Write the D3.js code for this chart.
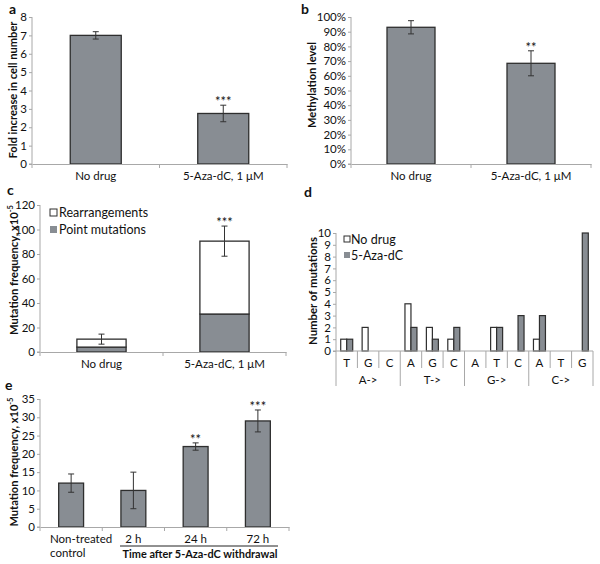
<!DOCTYPE html>
<html><head><meta charset="utf-8">
<script src="https://cdn.jsdelivr.net/npm/d3@7"></script>
<style>body{margin:0;background:#fff}svg{display:block}text{font-family:Lato,"Open Sans",sans-serif;fill:#111}</style>
</head><body>
<script>
// ---------- DATA ----------
const catsAB = ["No drug", "5-Aza-dC, 1 μM"];
const foldIncrease = [7.0, 2.75];
const foldErr = [0.2, 0.45];
const foldSig = ["", "***"];
const methylation = [0.93, 0.685];
const methylErr = [0.045, 0.085];
const methylSig = ["", "**"];
const pointMutations = [4, 31];
const rearrangements = [6.5, 59.5];
const totalErr = [4.1, 12.3];
const mutSig = ["", "***"];
const subsGroups = ["A->", "T->", "G->", "C->"];
const subsTargets = ["T","G","C","A","G","C","A","T","C","A","T","G"];
const noDrugCounts = [1,2,0,4,2,1,0,2,0,1,0,0];
const azaCounts =    [1,0,0,2,1,2,0,2,3,3,0,10];
const catsE = ["Non-treated control", "2 h", "24 h", "72 h"];
const freqE = [12, 10, 22, 29];
const freqErr = [2.5, 5, 1, 3];
const sigE = ["", "", "**", "***"];

// ---------- STYLE ----------
const BAR = "#888d93", EDGE = "#2e2e2e", AX = "#a8a8a8";
const FS = 11.5;
const svg = d3.select("body").append("svg").attr("width", 600).attr("height", 564);

function letter(t, x, y) {
  svg.append("text").attr("x", x).attr("y", y).attr("font-size", 14).attr("font-weight", "bold").text(t);
}
function yAxis(scale, x, ticks, fmt) {
  const g = svg.append("g").attr("transform", `translate(${x},0)`)
    .call(d3.axisLeft(scale).tickValues(ticks).tickFormat(fmt).tickSize(3).tickPadding(2));
  g.selectAll("path,line").attr("stroke", AX);
  g.select(".domain").attr("d", `M-3,${scale.range()[0]}H0V${scale.range()[1]}`);
  g.selectAll("text").attr("font-size", FS).attr("fill", "#111").style("font-family", "Lato,'Open Sans',sans-serif");
  return g;
}
function xAxis(band, y) {
  const g = svg.append("g").attr("transform", `translate(0,${y})`)
    .call(d3.axisBottom(band).tickSize(0).tickPadding(8));
  g.select(".domain").attr("stroke", AX);
  g.selectAll("text").attr("font-size", FS).attr("fill", "#111").style("font-family", "Lato,'Open Sans',sans-serif");
  const r = band.range(), n = band.domain().length, step = (r[1] - r[0]) / n;
  g.selectAll(".sep").data(d3.range(n + 1)).join("line").attr("class", "sep")
    .attr("x1", i => r[0] + i * step).attr("x2", i => r[0] + i * step)
    .attr("y1", 0).attr("y2", 4).attr("stroke", AX);
  return g;
}
function ylabel(parts, cx, cy, len) {
  const t = svg.append("text").attr("transform", `translate(${cx},${cy}) rotate(-90)`)
    .attr("text-anchor", "middle").attr("font-size", 11).attr("font-weight", "bold");
  t.append("tspan").text(parts[0]);
  if (parts[1]) t.append("tspan").attr("font-size", 7.5).attr("dy", -5).text(parts[1]);
  if (len) t.attr("textLength", len).attr("lengthAdjust", "spacingAndGlyphs");
}
function errBars(x, y, cats, vals, errs) {
  const g = svg.append("g").attr("stroke", "#333").attr("stroke-width", 1);
  cats.forEach((c, i) => {
    const cx = x(c) + x.bandwidth() / 2;
    const y1 = y(vals[i] + errs[i]), y2 = y(vals[i] - errs[i]);
    g.append("line").attr("x1", cx).attr("x2", cx).attr("y1", y1).attr("y2", y2);
    g.append("line").attr("x1", cx - 3).attr("x2", cx + 3).attr("y1", y1).attr("y2", y1);
    g.append("line").attr("x1", cx - 3).attr("x2", cx + 3).attr("y1", y2).attr("y2", y2);
  });
}
function stars(x, y, cats, tops, sig) {
  svg.append("g").selectAll("text").data(cats).join("text")
    .attr("x", c => x(c) + x.bandwidth() / 2).attr("y", (c, i) => y(tops[i]) + 1)
    .attr("text-anchor", "middle").attr("font-size", 13).text((c, i) => sig[i]);
}
function bars(x, y, cats, vals, base, fill) {
  svg.append("g").selectAll("rect").data(cats).join("rect")
    .attr("x", c => x(c)).attr("width", x.bandwidth())
    .attr("y", (c, i) => y((base ? base[i] : 0) + vals[i]))
    .attr("height", (c, i) => y(base ? base[i] : 0) - y((base ? base[i] : 0) + vals[i]))
    .attr("fill", fill).attr("stroke", EDGE).attr("stroke-width", 1.3);
}

// ---------- PANEL A ----------
{
  const x = d3.scaleBand().domain(catsAB).range([32, 287]).paddingInner(0.6).paddingOuter(0.3);
  const y = d3.scaleLinear().domain([0, 8]).range([164, 17]);
  letter("a", 9, 14);
  bars(x, y, catsAB, foldIncrease, null, BAR);
  yAxis(y, 32, d3.range(0, 9), d3.format("d"));
  xAxis(x, 164);
  errBars(x, y, catsAB, foldIncrease, foldErr);
  stars(x, y, catsAB, foldIncrease.map((v, i) => v + foldErr[i]), foldSig);
  ylabel(["Fold increase in cell number"], 17, 90, 137);
}
// ---------- PANEL B ----------
{
  const x = d3.scaleBand().domain(catsAB).range([351, 591]).paddingInner(0.6).paddingOuter(0.3);
  const y = d3.scaleLinear().domain([0, 1]).range([164, 17]);
  letter("b", 301, 14);
  bars(x, y, catsAB, methylation, null, BAR);
  yAxis(y, 351, d3.range(0, 11).map(d => d / 10), d3.format(".0%"));
  xAxis(x, 164);
  errBars(x, y, catsAB, methylation, methylErr);
  stars(x, y, catsAB, methylation.map((v, i) => v + methylErr[i]), methylSig);
  ylabel(["Methylation level"], 316, 85, 86);
}
// ---------- PANEL C ----------
{
  const x = d3.scaleBand().domain(catsAB).range([40, 286]).paddingInner(0.6).paddingOuter(0.3);
  const y = d3.scaleLinear().domain([0, 120]).range([352, 205]);
  letter("c", 7, 195);
  bars(x, y, catsAB, pointMutations, null, BAR);
  bars(x, y, catsAB, rearrangements, pointMutations, "#fff");
  yAxis(y, 40, d3.range(0, 121, 20), d3.format("d"));
  xAxis(x, 352);
  const tot = pointMutations.map((v, i) => v + rearrangements[i]);
  errBars(x, y, catsAB, tot, totalErr);
  stars(x, y, catsAB, tot.map((v, i) => v + totalErr[i]), mutSig);
  ylabel(["Mutation frequency, x10", "-5"], 18, 270, 130);
  const lg = svg.append("g");
  lg.append("rect").attr("x", 50).attr("y", 209).attr("width", 7).attr("height", 7).attr("fill", "#fff").attr("stroke", EDGE);
  lg.append("text").attr("x", 59).attr("y", 217).attr("font-size", 12.5).text("Rearrangements");
  lg.append("rect").attr("x", 50).attr("y", 226).attr("width", 7).attr("height", 7).attr("fill", BAR);
  lg.append("text").attr("x", 59).attr("y", 234).attr("font-size", 12.5).text("Point mutations");
}
// ---------- PANEL D ----------
{
  const idx = d3.range(subsTargets.length);
  const x0 = d3.scaleBand().domain(idx).range([336, 593]).paddingInner(0.44).paddingOuter(0.22);
  const x1 = d3.scaleBand().domain(["nd", "aza"]).range([0, x0.bandwidth()]);
  const y = d3.scaleLinear().domain([0, 10]).range([351, 233]);
  letter("d", 304, 197);
  const series = [["nd", noDrugCounts, "#fff"], ["aza", azaCounts, BAR]];
  series.forEach(([k, vals, fill]) => {
    svg.append("g").selectAll("rect").data(idx.filter(i => vals[i] > 0)).join("rect")
      .attr("x", i => x0(i) + x1(k)).attr("width", x1.bandwidth())
      .attr("y", i => y(vals[i])).attr("height", i => y(0) - y(vals[i]))
      .attr("fill", fill).attr("stroke", EDGE).attr("stroke-width", 1.2);
  });
  yAxis(y, 336, d3.range(0, 11), d3.format("d"));
  const step = (593 - 336) / subsTargets.length;
  const ax = svg.append("g");
  ax.append("line").attr("x1", 336).attr("x2", 593).attr("y1", 351).attr("y2", 351).attr("stroke", AX);
  d3.range(subsTargets.length + 1).forEach(i => {
    ax.append("line").attr("x1", 336 + i * step).attr("x2", 336 + i * step)
      .attr("y1", 351).attr("y2", i % 3 === 0 ? 386 : 368).attr("stroke", AX);
  });
  ax.selectAll(".tl").data(subsTargets).join("text").attr("class", "tl")
    .attr("x", (d, i) => 336 + (i + 0.5) * step).attr("y", 367).attr("text-anchor", "middle")
    .attr("font-size", FS).text(d => d);
  ax.selectAll(".gl").data(subsGroups).join("text").attr("class", "gl")
    .attr("x", (d, i) => 336 + (i * 3 + 1.5) * step).attr("y", 384).attr("text-anchor", "middle")
    .attr("font-size", FS).text(d => d);
  ylabel(["Number of mutations"], 317, 291, 108);
  const lg = svg.append("g");
  lg.append("rect").attr("x", 344).attr("y", 236).attr("width", 6).attr("height", 6).attr("fill", "#fff").attr("stroke", EDGE);
  lg.append("text").attr("x", 351).attr("y", 244).attr("font-size", 12.5).text("No drug");
  lg.append("rect").attr("x", 344).attr("y", 252).attr("width", 6).attr("height", 6).attr("fill", BAR);
  lg.append("text").attr("x", 351).attr("y", 260).attr("font-size", 12.5).text("5-Aza-dC");
}
// ---------- PANEL E ----------
{
  const x = d3.scaleBand().domain(catsE).range([40, 289]).paddingInner(0.6).paddingOuter(0.3);
  const y = d3.scaleLinear().domain([0, 35]).range([527, 399]);
  letter("e", 5, 390);
  bars(x, y, catsE, freqE, null, BAR);
  yAxis(y, 40, d3.range(0, 36, 5), d3.format("d"));
  const g = xAxis(x, 527);
  const x0 = x(catsE[0]) + x.bandwidth() / 2;
  g.selectAll(".tick text").each(function(d) {
    const t = d3.select(this);
    if (d === catsE[0]) {
      t.text(null).attr("text-anchor", "start");
      t.append("tspan").attr("x", 50 - x0).attr("dy", "0.71em").text("Non-treated");
      t.append("tspan").attr("x", 50 - x0).attr("dy", 13.5).text("control");
    }
  });
  errBars(x, y, catsE, freqE, freqErr);
  stars(x, y, catsE, freqE.map((v, i) => v + freqErr[i]), sigE);
  ylabel(["Mutation frequency, x10", "-5"], 18, 462, 129);
  svg.append("line").attr("x1", 120).attr("x2", 278).attr("y1", 546).attr("y2", 546).attr("stroke", "#222").attr("stroke-width", 1);
  svg.append("text").attr("x", 200).attr("y", 558).attr("text-anchor", "middle").attr("font-size", 12)
    .attr("font-weight", "bold").attr("textLength", 155).attr("lengthAdjust", "spacingAndGlyphs")
    .text("Time after 5-Aza-dC withdrawal");
}
</script>
</body></html>
